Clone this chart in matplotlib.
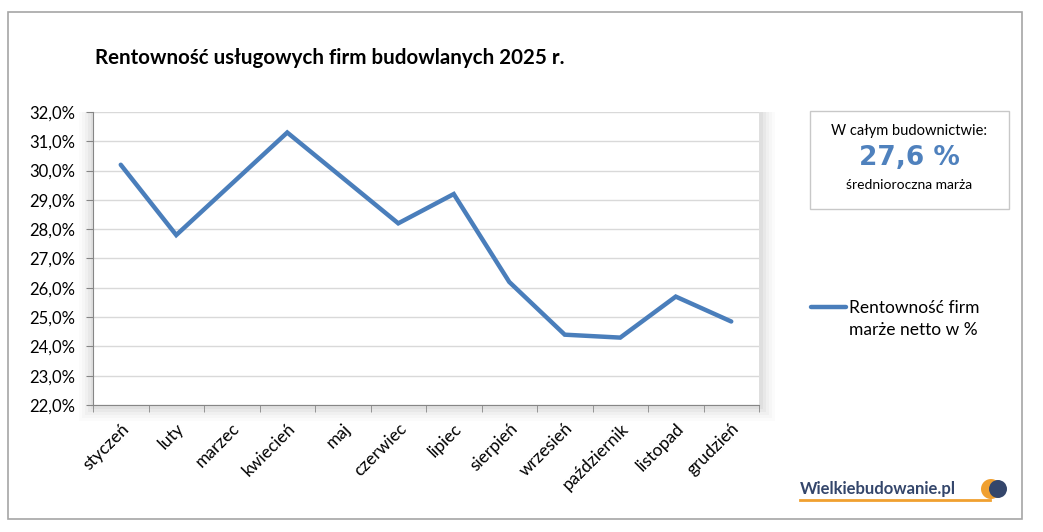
import matplotlib.pyplot as plt
from matplotlib.patches import Rectangle, Ellipse
from matplotlib.ticker import FuncFormatter, FixedLocator

plt.rcParams['font.family'] = ['Lato', 'DejaVu Sans']

months = ["styczeń", "luty", "marzec", "kwiecień", "maj", "czerwiec",
          "lipiec", "sierpień", "wrzesień", "październik", "listopad", "grudzień"]
margin = [30.2, 27.8, 29.55, 31.3, 29.75, 28.2, 29.2, 26.2, 24.4, 24.3, 25.7, 24.85]
series_label = "Rentowność firm\nmarże netto w %"
title = "Rentowność usługowych firm budowlanych 2025 r."
avg_value = "27,6 %"

W, H = 1043, 532
fig = plt.figure(figsize=(W / 100, H / 100), dpi=100)
fig.patch.set_facecolor("white")


def fx(px):
    return px / W


def fy(py):
    return 1 - py / H


# outer frame
fig.patches.append(Rectangle((fx(8), fy(519)), fx(1022) - fx(8), fy(12) - fy(519),
                             transform=fig.transFigure, fill=False,
                             edgecolor="#a6a6a6", linewidth=1.2))

# soft shadow around plot area (drawn under the axes)
for i, a in enumerate([0.035, 0.03, 0.025, 0.02, 0.015]):
    d = 2 + i * 3
    fig.patches.append(Rectangle((fx(93 - d), fy(405 + d + 2)), fx(759 + d + 2) - fx(93 - d),
                                 fy(112) - fy(405 + d + 2), transform=fig.transFigure,
                                 facecolor="black", alpha=a, edgecolor="none", zorder=0))

ax = fig.add_axes([fx(93), fy(405), fx(759) - fx(93), fy(112) - fy(405)])
ax.set_zorder(2)
ax.set_facecolor("white")
x = list(range(len(months)))
ax.plot(x, margin, color="#4a7ebb", linewidth=3.2, solid_capstyle="round",
        solid_joinstyle="miter", zorder=3, clip_on=False)

ax.set_xlim(-0.5, len(months) - 0.5)
ax.set_ylim(22, 32)
ax.set_yticks(range(22, 33))
ax.yaxis.set_major_formatter(FuncFormatter(lambda v, p: f"{v:.1f}%".replace(".", ",")))
ax.grid(axis="y", color="#d9d9d9", linewidth=1)
ax.set_axisbelow(True)

ax.set_xticks(x)
ax.set_xticklabels(months, rotation=45, ha="right", rotation_mode="anchor", fontsize=12.5)
ax.xaxis.set_minor_locator(FixedLocator([i - 0.5 for i in range(len(months) + 1)]))
ax.tick_params(axis="x", which="major", length=0, pad=11)
ax.tick_params(axis="x", which="minor", length=5, color="#868686", direction="out")
ax.tick_params(axis="y", length=5, color="#868686", labelsize=12, pad=8)

for s in ["top", "right"]:
    ax.spines[s].set_visible(False)
for s in ["left", "bottom"]:
    ax.spines[s].set_color("#868686")

fig.text(fx(95), fy(58), title, fontsize=14.8, fontweight="bold", va="center", ha="left")

# info box
fig.patches.append(Rectangle((fx(810), fy(209)), fx(1009) - fx(810), fy(111) - fy(209),
                             transform=fig.transFigure, fill=False,
                             edgecolor="#c8c8c8", linewidth=1))
fig.text(fx(909), fy(131), "W całym budownictwie:", fontsize=10.5, ha="center", va="center")
fig.text(fx(909), fy(158), avg_value, fontsize=19, fontweight="bold", color="#4f81bd",
         ha="center", va="center", family=["DejaVu Sans"])
fig.text(fx(909), fy(185), "średnioroczna marża", fontsize=10, ha="center", va="center")

# legend
fig.add_artist(plt.Line2D([fx(811), fx(846)], [fy(307), fy(307)], transform=fig.transFigure,
                          color="#4a7ebb", linewidth=3.2, solid_capstyle="round"))
fig.text(fx(849), fy(319), series_label, fontsize=12.5, ha="left", va="center",
         linespacing=1.45)

# logo
fig.text(fx(800), fy(489), "Wielkiebudowanie.pl", fontsize=12, fontweight="bold",
         color="#34466b", ha="left", va="center")
fig.add_artist(plt.Line2D([fx(800), fx(990)], [fy(500), fy(500)], transform=fig.transFigure,
                          color="#f0a030", linewidth=2))
fig.patches.append(Ellipse((fx(991), fy(489)), fx(20), 20 / H, transform=fig.transFigure,
                           facecolor="#f0a030", edgecolor="none"))
fig.patches.append(Ellipse((fx(998), fy(489)), fx(18), 18 / H, transform=fig.transFigure,
                           facecolor="#34466b", edgecolor="none"))

fig.savefig("out.png", dpi=100)
